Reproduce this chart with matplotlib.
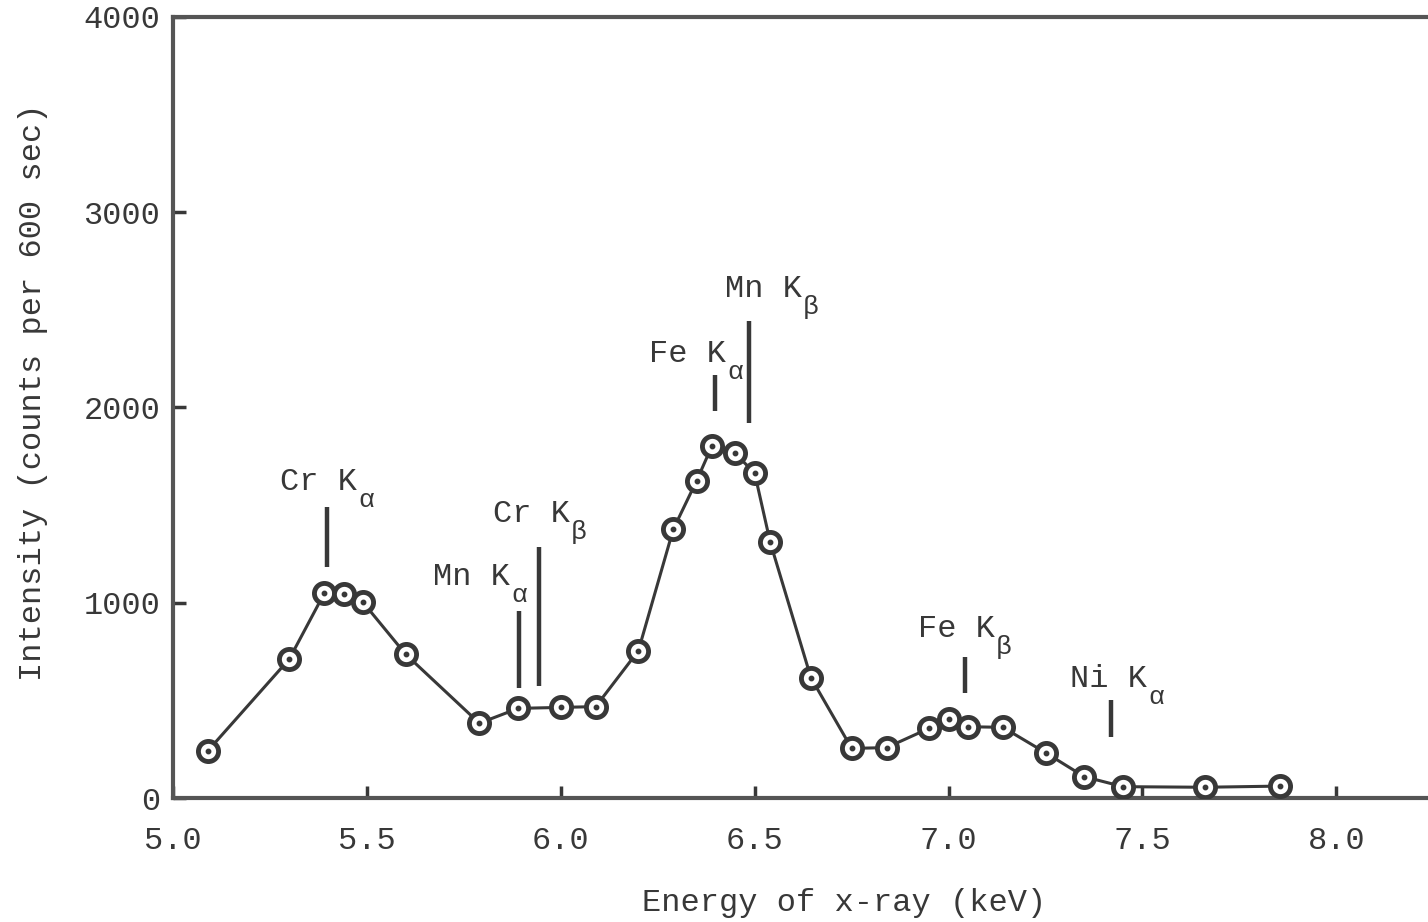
import matplotlib
matplotlib.use("Agg")
import matplotlib.pyplot as plt

# measured spectrum (counts per 600 sec)
energy = [5.09, 5.30, 5.39, 5.44, 5.49, 5.60, 5.79, 5.89, 6.00, 6.09,
          6.20, 6.29, 6.35, 6.39, 6.45, 6.50, 6.54, 6.645, 6.75, 6.84,
          6.95, 7.00, 7.05, 7.14, 7.25, 7.35, 7.45, 7.66, 7.855]
counts = [242, 712, 1048, 1045, 1002, 736, 383, 459, 464, 468,
          754, 1376, 1624, 1804, 1765, 1663, 1310, 616, 254, 258,
          357, 403, 365, 362, 232, 109, 58, 55, 61]

# characteristic lines: name, subscript, energy, bar bottom, bar top
line_names = ["Cr K", "Mn K", "Cr K", "Fe K", "Mn K", "Fe K", "Ni K"]
line_subs = ["\u03b1", "\u03b1", "\u03b2", "\u03b1", "\u03b2", "\u03b2", "\u03b1"]
line_energy = [5.397, 5.892, 5.944, 6.398, 6.486, 7.042, 7.42]
line_low = [1185, 562, 574, 1984, 1922, 536, 312]
line_high = [1492, 959, 1287, 2166, 2445, 724, 502]
# label anchor (left, baseline) in data units
label_x = [5.276, 5.670, 5.825, 6.227, 6.423, 6.921, 7.313]
label_y = [1577, 1091, 1414, 2233, 2566, 825, 568]

x_ticks = [5.0, 5.5, 6.0, 6.5, 7.0, 7.5, 8.0]
y_ticks = [0, 1000, 2000, 3000, 4000]

ink = "#383838"
fs = 23
plt.rcParams["font.family"] = ["Liberation Mono", "DejaVu Sans Mono"]

fig = plt.figure(figsize=(14.28, 9.22), dpi=100)
# right edge of the frame sits just past the picture edge, as in the scan
ax = fig.add_axes([173 / 1428, 124 / 922, (1431 - 173) / 1428, (798 - 17) / 922])

ax.plot(energy, counts, color=ink, lw=2.2, zorder=2)
ax.plot(energy, counts, "o", ms=14.5, mfc="white", mec=ink, mew=3.5, zorder=3)
ax.plot(energy, counts, "o", ms=3.2, color=ink, zorder=4)

ax.vlines(line_energy, line_low, line_high, color=ink, lw=3.2, zorder=2)
adv = 0.6 * fs
for name, sub, lx, ly in zip(line_names, line_subs, label_x, label_y):
    ax.text(lx, ly, name, fontsize=fs, color=ink, ha="left", va="baseline")
    ax.annotate(sub, xy=(lx, ly), xytext=(len(name) * adv + 1, -12.5),
                textcoords="offset points", fontsize=fs - 4, color=ink,
                ha="left", va="baseline")

ax.set_xlim(5.0, 5.0 + (1431 - 173) / 387.8)
ax.set_ylim(0, 4000)
ax.set_xticks(x_ticks)
ax.set_xticklabels([f"{t:.1f}" for t in x_ticks])
ax.set_yticks(y_ticks)
ax.tick_params(axis="both", direction="in", length=9, width=2.5, color=ink,
               labelsize=fs, labelcolor=ink)
ax.tick_params(axis="x", pad=20)
ax.tick_params(axis="y", pad=9)
for sp in ax.spines.values():
    sp.set_linewidth(3)
    sp.set_color("#555555")

fig.text(33 / 1428, 1 - 392 / 922, "Intensity (counts per 600 sec)",
         rotation=90, ha="center", va="center", fontsize=fs, color=ink)
fig.text(844 / 1428, 1 - 903 / 922, "Energy of x-ray (keV)",
         ha="center", va="center", fontsize=fs, color=ink)

fig.savefig("out.png", dpi=100, facecolor="white")
